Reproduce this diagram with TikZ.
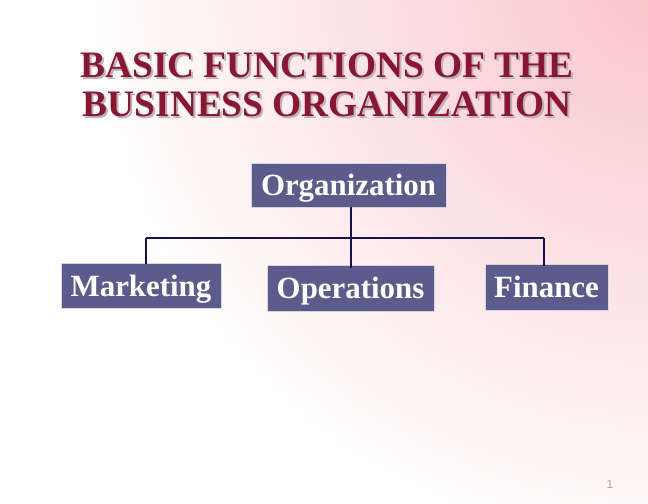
\documentclass[tikz,border=0pt]{standalone}
\usepackage{fontspec}
\setmainfont{Liberation Serif}
\newfontfamily\pnfont{Liberation Sans}
\definecolor{bgpink}{RGB}{250,196,201}
\definecolor{titlered}{RGB}{138,22,50}
\definecolor{shadowgray}{RGB}{188,180,184}
\definecolor{boxblue}{RGB}{92,92,140}
\definecolor{linenavy}{RGB}{25,15,85}
\begin{document}
\begin{tikzpicture}[x=1bp,y=-1bp,
  titletext/.style={anchor=base,inner sep=0pt,font=\bfseries\fontsize{37.5}{37.5}\selectfont},
  box/.style={fill=boxblue,draw=white!75!boxblue,line width=0.6bp,text=white,
    font=\bfseries\fontsize{31}{31}\selectfont,inner sep=0pt,
    text height=21bp,text depth=0bp},
  conn/.style={draw=linenavy,line width=1.2bp}]
\useasboundingbox (0,0) rectangle (648,504);
\begin{scope}
  \clip (0,0) rectangle (648,504);
  \fill[white] (0,0) rectangle (648,504);
  \shade[inner color=bgpink,outer color=white] (660,-20) circle [radius=580bp];
\end{scope}
% title
\node[titletext,text=shadowgray] (t1s) at (329,80) {BASIC FUNCTIONS OF THE};
\node[titletext,text=shadowgray] (t2s) at (329,119) {BUSINESS ORGANIZATION};
\node[titletext,text=titlered] (t1) at (327,78) {BASIC FUNCTIONS OF THE};
\node[titletext,text=titlered] (t2) at (327,117) {BUSINESS ORGANIZATION};
% boxes
\node[box,minimum width=195bp,minimum height=44bp] (org) at (348.5,185) {Organization};
\node[box,minimum width=160bp,minimum height=45bp] (mkt) at (141,285.5) {Marketing};
\node[box,minimum width=167bp,minimum height=46bp] (ops) at (350.5,288) {Operations};
\node[box,minimum width=123bp,minimum height=46bp] (fin) at (546.5,287) {Finance};
% connectors
\coordinate (jm) at (146,238);
\coordinate (jo) at (351,238);
\coordinate (jf) at (544,238);
\draw[conn] (org.south -| jo) -- (jo);
\draw[conn] (jm) -- (jf);
\draw[conn] (jm) -- ([yshift=-1bp]jm |- mkt.north);
\draw[conn] (jo) -- ([yshift=-3bp]jo |- ops.north);
\draw[conn] (jf) -- ([yshift=-2bp]jf |- fin.north);
% page number
\node[font=\pnfont\fontsize{12}{12}\selectfont,text=black!35,inner sep=0pt] (pn) at (610,484) {1};
\end{tikzpicture}
\end{document}
